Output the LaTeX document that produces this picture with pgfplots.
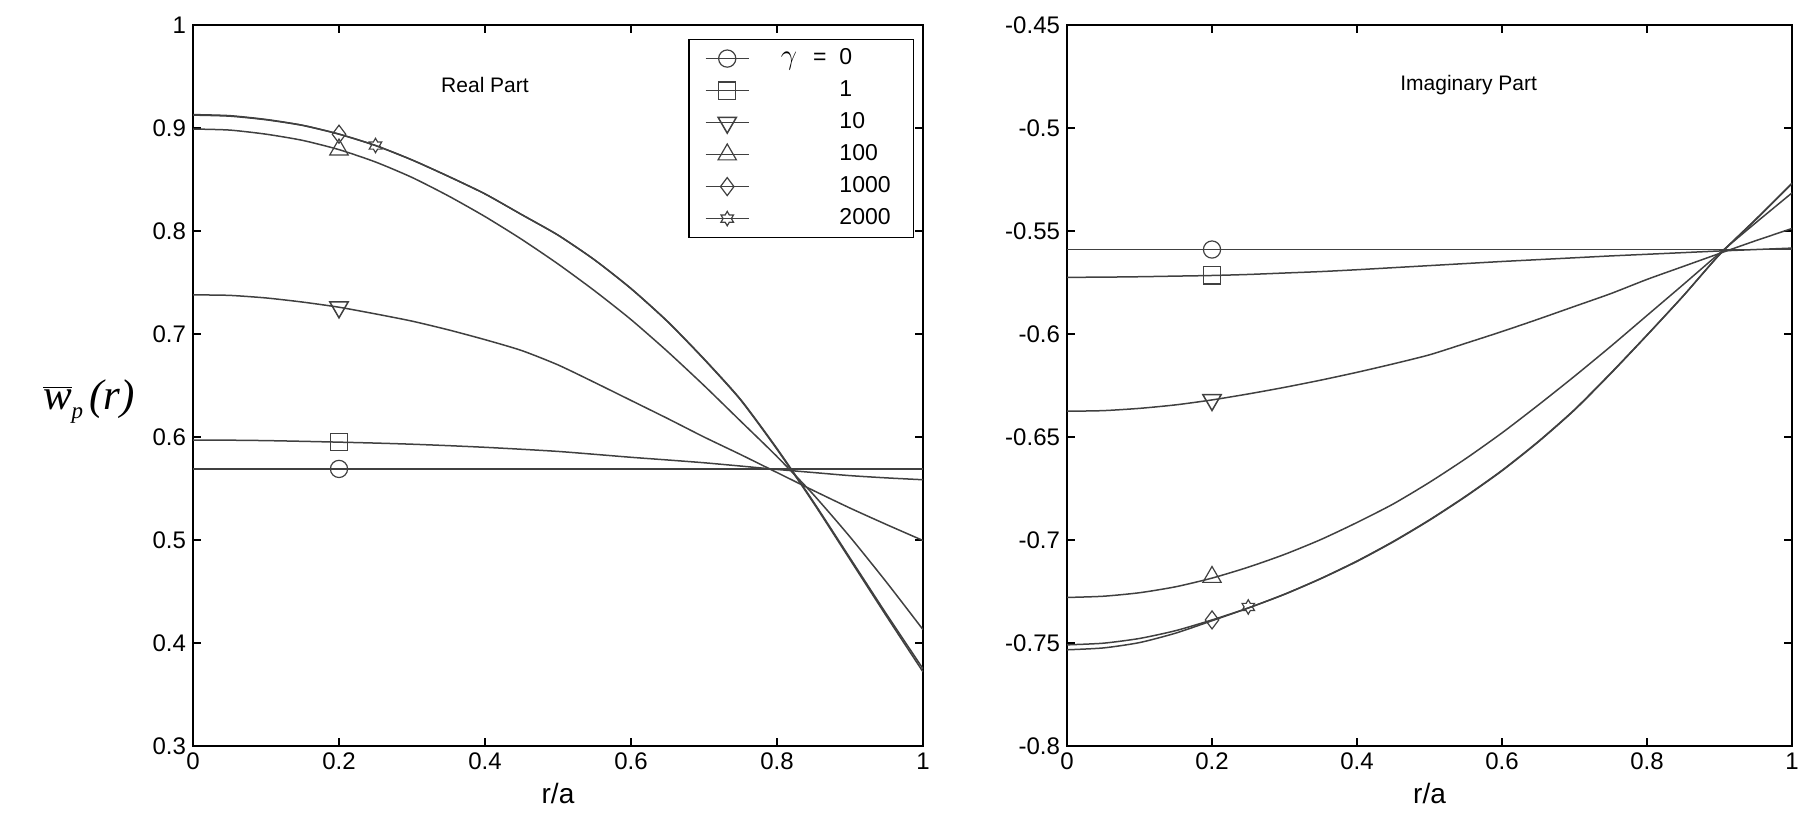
\documentclass[border=0pt]{standalone}
\usepackage{fontspec}
\setmainfont{Liberation Sans}
\newfontfamily\tnr{Liberation Serif}
\usepackage{pgfplots}
\pgfplotsset{compat=1.18}
\usepackage{pgfplotstable}
\usetikzlibrary{plotmarks}

\pgfdeclareplotmark{hexagram}{%
  \pgfpathmoveto{\pgfpointpolar{90}{\pgfplotmarksize}}%
  \pgfpathlineto{\pgfpointpolar{120}{0.577*\pgfplotmarksize}}%
  \pgfpathlineto{\pgfpointpolar{150}{\pgfplotmarksize}}%
  \pgfpathlineto{\pgfpointpolar{180}{0.577*\pgfplotmarksize}}%
  \pgfpathlineto{\pgfpointpolar{210}{\pgfplotmarksize}}%
  \pgfpathlineto{\pgfpointpolar{240}{0.577*\pgfplotmarksize}}%
  \pgfpathlineto{\pgfpointpolar{270}{\pgfplotmarksize}}%
  \pgfpathlineto{\pgfpointpolar{300}{0.577*\pgfplotmarksize}}%
  \pgfpathlineto{\pgfpointpolar{330}{\pgfplotmarksize}}%
  \pgfpathlineto{\pgfpointpolar{0}{0.577*\pgfplotmarksize}}%
  \pgfpathlineto{\pgfpointpolar{30}{\pgfplotmarksize}}%
  \pgfpathlineto{\pgfpointpolar{60}{0.577*\pgfplotmarksize}}%
  \pgfpathclose
  \pgfusepathqstroke
}

\pgfplotstableread{
x g0 g1 g10 g100 g1000 g2000
0.00 0.569 0.5970 0.7380 0.899 0.9125 0.9130
0.05 0.569 0.5969 0.7375 0.898 0.9115 0.9120
0.10 0.569 0.5965 0.7350 0.894 0.9080 0.9083
0.15 0.569 0.5958 0.7310 0.888 0.9025 0.9027
0.20 0.569 0.5950 0.7260 0.879 0.8940 0.8941
0.25 0.569 0.5941 0.7195 0.867 0.8830 0.8830
0.30 0.569 0.5930 0.7125 0.852 0.8690 0.8690
0.35 0.569 0.5916 0.7040 0.834 0.8530 0.8530
0.40 0.569 0.5900 0.6945 0.814 0.8360 0.8360
0.45 0.569 0.5881 0.6840 0.792 0.8160 0.8160
0.50 0.569 0.5860 0.6700 0.768 0.7960 0.7960
0.55 0.569 0.5832 0.6530 0.742 0.7720 0.7720
0.60 0.569 0.5803 0.6355 0.714 0.7440 0.7442
0.65 0.569 0.5777 0.6180 0.683 0.7120 0.7123
0.70 0.569 0.5750 0.6000 0.650 0.6755 0.6759
0.75 0.569 0.5718 0.5830 0.6155 0.6360 0.6366
0.80 0.569 0.5685 0.5655 0.581 0.5880 0.5888
0.85 0.569 0.5655 0.5480 0.544 0.5360 0.5370
0.90 0.569 0.5625 0.5310 0.503 0.4810 0.4825
0.95 0.569 0.5603 0.5150 0.459 0.4260 0.4280
1.00 0.569 0.5585 0.4995 0.413 0.3720 0.3750
}\realdata

\pgfplotstableread{
x g0 g1 g10 g100 g1000 g2000
0.00 -0.559 -0.5725 -0.6375 -0.7279 -0.7509 -0.7533
0.05 -0.559 -0.5724 -0.6372 -0.7273 -0.7501 -0.7524
0.10 -0.559 -0.5722 -0.6361 -0.7256 -0.7478 -0.7498
0.15 -0.559 -0.5719 -0.6344 -0.7227 -0.7440 -0.7452
0.20 -0.559 -0.5716 -0.6320 -0.7185 -0.7388 -0.7392
0.25 -0.559 -0.5711 -0.6291 -0.7132 -0.7330 -0.7330
0.30 -0.559 -0.5704 -0.6259 -0.7070 -0.7263 -0.7264
0.35 -0.559 -0.5697 -0.6224 -0.6998 -0.7187 -0.7188
0.40 -0.559 -0.5688 -0.6186 -0.6915 -0.7102 -0.7104
0.45 -0.559 -0.5678 -0.6145 -0.6825 -0.7007 -0.7009
0.50 -0.559 -0.5668 -0.6101 -0.6720 -0.6902 -0.6904
0.55 -0.559 -0.5658 -0.6045 -0.6605 -0.6787 -0.6789
0.60 -0.559 -0.5648 -0.5988 -0.6480 -0.6662 -0.6664
0.65 -0.559 -0.5639 -0.5928 -0.6345 -0.6522 -0.6524
0.70 -0.559 -0.5630 -0.5866 -0.6205 -0.6367 -0.6369
0.75 -0.559 -0.5621 -0.5804 -0.6060 -0.6190 -0.6192
0.80 -0.559 -0.5613 -0.5735 -0.5910 -0.6005 -0.6006
0.85 -0.559 -0.5605 -0.5672 -0.5760 -0.5815 -0.5815
0.90 -0.559 -0.5597 -0.5609 -0.5608 -0.5615 -0.5614
0.95 -0.559 -0.5590 -0.5547 -0.5460 -0.5445 -0.5443
1.00 -0.559 -0.5583 -0.5488 -0.5315 -0.5270 -0.5268
}\imagdata

\pgfplotsset{
  myaxis/.style={
    scale only axis, width=365pt, height=360.5pt,
    xmin=0, xmax=1,
    xtick={0,0.2,0.4,0.6,0.8,1},
    axis line style={black, line width=0.6pt},
    major tick style={black, line width=0.6pt},
    major tick length=4pt,
    tick align=inside,
    /pgf/number format/assume math mode=true,
    tick label style={font=\fontsize{12}{14}\selectfont},
    xlabel={r/a},
    xlabel style={font=\fontsize{14}{16}\selectfont, at={(axis description cs:0.5,0)}, anchor=base, yshift=-28.5pt, inner sep=0pt},
    mark size=4.3pt,
    legend image code/.code={\draw[mark repeat=2,mark phase=2,#1] plot coordinates {(0pt,0pt) (10.75pt,0pt) (21.5pt,0pt)};},
  },
  curve/.style={black!75, line width=0.75pt, no marks, forget plot, smooth, tension=0.4},
  mk/.style={black!75, line width=0.75pt, mark options={solid, line width=0.6pt}},
}

\begin{document}
\begin{tikzpicture}
\path[use as bounding box] (0,0) rectangle (899.5pt,415.5pt);

\node[font=\fontsize{21.5}{23}\selectfont\tnr\itshape, inner sep=0pt] at (44.4pt,214.7pt)
  {$\overline{\mbox{\tnr\itshape w}}$\raisebox{-4.5pt}{\fontsize{11.5}{11.5}\selectfont p}\hspace{3pt}(r)};

\begin{axis}[myaxis, at={(96.5pt,42.5pt)}, anchor=south west,
  ymin=0.3, ymax=1,
  ytick={0.3,0.4,0.5,0.6,0.7,0.8,0.9,1},
  legend style={at={(0.988,0.9806)}, anchor=north east, draw=black, line width=0.6pt, fill=white,
    font=\fontsize{11.5}{13}\selectfont, row sep=5pt, inner xsep=8pt, inner ysep=4pt,
    nodes={inner sep=0pt, text height=8.5pt, text depth=2.5pt}},
  legend cell align=left,
]
\addplot[curve] table[x=x,y=g0] {\realdata};
\addplot[curve] table[x=x,y=g1] {\realdata};
\addplot[curve] table[x=x,y=g10] {\realdata};
\addplot[curve] table[x=x,y=g100] {\realdata};
\addplot[curve] table[x=x,y=g1000] {\realdata};
\addplot[curve] table[x=x,y=g2000] {\realdata};

\addplot[mk, mark=o] coordinates {(0.2,0.569)};
\addlegendentry{\hspace*{45pt}\llap{{\fontsize{15}{15}\selectfont$\gamma$}\hspace{8pt}=\hspace{6.5pt}}0}
\addplot[mk, mark=square] coordinates {(0.2,0.595)};
\addlegendentry{\hspace*{45pt}1}
\addplot[mk, mark=triangle, mark size=5.3pt, mark options={rotate=180}] coordinates {(0.2,0.726)};
\addlegendentry{\hspace*{45pt}10}
\addplot[mk, mark=triangle, mark size=5.3pt] coordinates {(0.2,0.879)};
\addlegendentry{\hspace*{45pt}100}
\addplot[mk, mark=diamond, mark size=4.5pt] coordinates {(0.2,0.894)};
\addlegendentry{\hspace*{45pt}1000\hspace*{3.5pt}}
\addplot[mk, mark=hexagram, mark size=3.6pt] coordinates {(0.25,0.883)};
\addlegendentry{\hspace*{45pt}2000\hspace*{3.5pt}}

\node[font=\fontsize{10.5}{12}\selectfont] at (axis cs:0.4,0.942) {Real Part};
\end{axis}

\begin{axis}[myaxis, at={(533.5pt,42.5pt)}, anchor=south west, width=362.5pt,
  ymin=-0.8, ymax=-0.45,
  ytick={-0.8,-0.75,-0.7,-0.65,-0.6,-0.55,-0.5,-0.45},
  yticklabel style={/pgf/number format/fixed, /pgf/number format/precision=2},
]
\addplot[curve] table[x=x,y=g0] {\imagdata};
\addplot[curve] table[x=x,y=g1] {\imagdata};
\addplot[curve] table[x=x,y=g10] {\imagdata};
\addplot[curve] table[x=x,y=g100] {\imagdata};
\addplot[curve] table[x=x,y=g1000] {\imagdata};
\addplot[curve] table[x=x,y=g2000] {\imagdata};

\addplot[mk, mark=o] coordinates {(0.2,-0.559)};
\addplot[mk, mark=square] coordinates {(0.2,-0.5716)};
\addplot[mk, mark=triangle, mark size=5.3pt, mark options={rotate=180}] coordinates {(0.2,-0.632)};
\addplot[mk, mark=triangle, mark size=5.3pt] coordinates {(0.2,-0.7180)};
\addplot[mk, mark=diamond, mark size=4.5pt] coordinates {(0.2,-0.7388)};
\addplot[mk, mark=hexagram, mark size=3.6pt] coordinates {(0.25,-0.7325)};

\node[font=\fontsize{10.5}{12}\selectfont] at (axis cs:0.554,-0.4792) {Imaginary Part};
\end{axis}
\end{tikzpicture}
\end{document}
